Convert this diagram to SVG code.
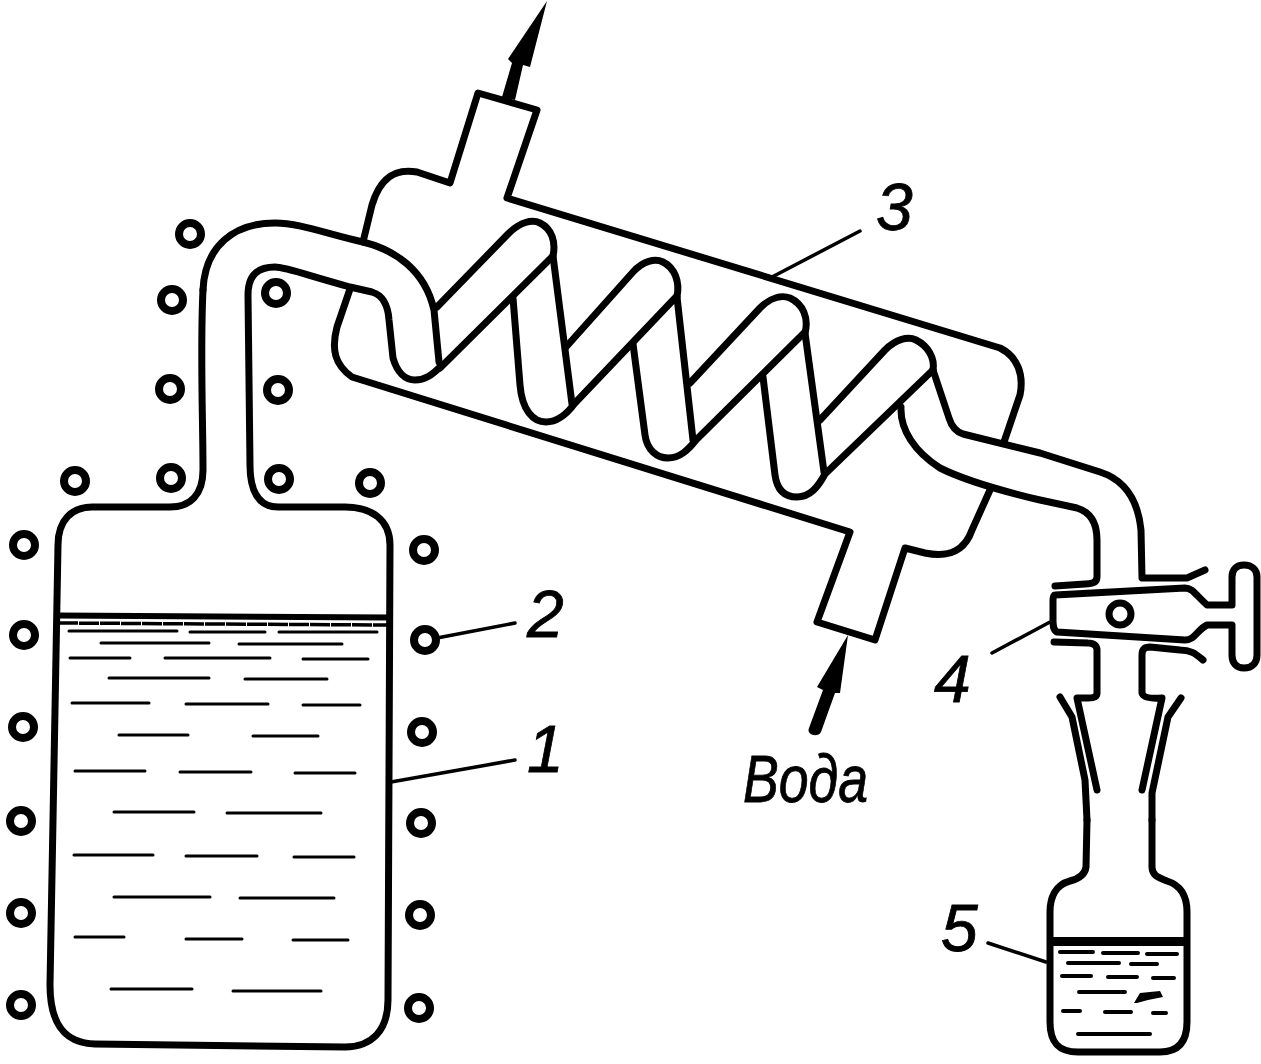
<svg xmlns="http://www.w3.org/2000/svg" width="1261" height="1064" viewBox="0 0 1261 1064">
<style>
.s{fill:none;stroke:#000;stroke-width:7;stroke-linecap:round;stroke-linejoin:round}
.f{fill:#fff;stroke:#000;stroke-width:7;stroke-linejoin:round}
.l{fill:none;stroke:#000;stroke-width:3.500;stroke-linecap:round}
.d{fill:none;stroke:#000;stroke-width:3;stroke-linecap:round}
.e{fill:none;stroke:#000;stroke-width:4;stroke-linecap:round}
.b{fill:#000;stroke:none}
.c{fill:#fff;stroke:#000;stroke-width:8}
.t{font-family:"Liberation Sans","DejaVu Sans",sans-serif;font-style:italic;font-size:66px;fill:#000;stroke:#000;stroke-width:.8}
</style>
<rect width="1261" height="1064" fill="#fff"/>
<g id="flask">
<path class="s" d="M203 290C200 350 203 420 203 470C203 495 190 507 170 507L92 507C72 507 58 520 58 545L50 985C50 1025 65 1043 95 1044L345 1047C372 1047 388 1030 388 1000L390 545C390 520 372 507 345 507L278 507C258 507 250 490 250 465L248 295C248 275 258 267 275 267C285 267 300 273 350 287L372 292C382 295 388 305 389 320L393 358C397 372 405 380 415 380C425 380 432 375 440 367"/>
<path class="s" d="M203 290C205 245 235 223 275 223C300 223 330 235 363 242C395 250 425 270 434 310L439 362"/>
<path d="M58 615.500L390 617.500" fill="none" stroke="#000" stroke-width="6"/>
<path d="M58 623L390 625" fill="none" stroke="#000" stroke-width="3.500" stroke-dasharray="20 1"/>
<path class="d" d="M69 631H177M190 632H265M279 632H377M101 643H209M239 644H342M70 658H130M165 658H270M303 659H368M109 678H209M245 679H327M72 703H149M186 704H268M303 705H360M119 735H188M253 736H318M75 771H145M180 772H251M295 773H355M114 812H194M227 813H321M74 855H153M186 856H257M294 857H354M114 897H210M240 898H334M75 937H124M186 939H242M293 940H348M111 989H192M233 991H321"/>
</g>
<g id="heater">
<circle class="c" cx="24" cy="545" r="11"/><circle class="c" cx="24" cy="635" r="11"/><circle class="c" cx="23" cy="727" r="11"/><circle class="c" cx="21" cy="821" r="11"/><circle class="c" cx="21" cy="913" r="11"/><circle class="c" cx="21" cy="1005" r="11"/>
<circle class="c" cx="424" cy="550" r="11"/><circle class="c" cx="425" cy="640" r="11"/><circle class="c" cx="422" cy="732" r="11"/><circle class="c" cx="421" cy="823" r="11"/><circle class="c" cx="420" cy="915" r="11"/><circle class="c" cx="419" cy="1008" r="11"/>
<circle class="c" cx="75" cy="481" r="11"/><circle class="c" cx="171" cy="478" r="11"/><circle class="c" cx="170" cy="389" r="11"/><circle class="c" cx="172" cy="300" r="11"/><circle class="c" cx="190" cy="234" r="11"/><circle class="c" cx="276" cy="293" r="11"/><circle class="c" cx="278" cy="390" r="11"/><circle class="c" cx="279" cy="479" r="11"/><circle class="c" cx="370" cy="483" r="11"/>
</g>
<g id="condenser">
<path class="s" d="M363 242L372 205C380 178 395 168 417 172L450 183L478 93L537 110L507 198L1000 348C1018 357 1024 375 1020 395L1004 442"/>
<path class="s" d="M350 289L337 327C331 350 335 365 352 377L850 532L817 622L875 640L905 548L925 553C950 558 965 550 972 530L990 490"/>
<g id="coil">
<path class="s" d="M437 307L508 234C520 222 532 219 540 223C552 229 556 242 553 256L440 368"/>
<path class="s" d="M513 298L520 385C522 410 533 422 546 422C558 422 567 414 575 403L676 297"/>
<path class="s" d="M553 256L572 404"/>
<path class="s" d="M566 347L633 272C643 261 655 258 663 262C675 268 680 282 677 297"/>
<path class="s" d="M677 297L693 440"/>
<path class="s" d="M633 344L645 435C647 450 657 458 668 458C680 458 688 450 696 440L804 333"/>
<path class="s" d="M690 383L760 308C771 297 782 295 790 298C803 304 809 318 805 333"/>
<path class="s" d="M805 333L824 472"/>
<path class="s" d="M763 377L775 475C777 490 785 497 797 497C810 497 818 487 825 474L933 370"/>
<path class="s" d="M820 420L885 350C896 339 908 336 916 340C928 346 935 358 933 370"/>
<path class="s" d="M933 370L949 418C952 428 957 432 963 434L1040 453L1100 472C1125 480 1138 500 1141 530L1142 578L1187 578L1205 570"/>
<path class="s" d="M901 407C900 430 915 452 940 468C960 478 985 487 1040 500L1077 508C1090 512 1097 522 1097 540L1097 577C1097 583 1090 584 1085 584L1055 586"/>
</g>
</g>
<g id="stopcock">
<path class="f" d="M1055 595L1185 588C1192 588 1195 594 1207 605L1232 605L1232 577C1232 570 1236 565 1244 565C1252 565 1257 570 1257 577L1257 655C1257 663 1252 668 1244 668C1236 668 1232 663 1232 655L1232 625L1207 625C1197 630 1195 640 1185 640L1057 632C1053 630 1053 625 1053 620L1053 600C1053 597 1054 595 1055 595Z"/>
<circle cx="1120" cy="614" r="11" fill="#fff" stroke="#000" stroke-width="7"/>
<path class="s" d="M1054 642L1088 643C1094 643 1097 646 1097 650L1097 693C1097 697 1093 698 1088 698L1077 698L1097 790"/>
<path class="s" d="M1203 660C1195 653 1190 650 1180 650L1150 647C1144 647 1142 650 1142 655L1142 693C1143 697 1148 699 1162 698L1142 790"/>
<path class="s" d="M1060 697L1072 717L1085 780L1087 820"/>
<path class="s" d="M1181 698L1168 717L1152 793L1152 820"/>
</g>
<g id="receiver">
<path class="s" d="M1087 820L1086 867C1085 875 1078 879 1070 881C1055 885 1050 898 1050 912L1050 1022C1050 1042 1058 1052 1078 1052L1160 1052C1178 1052 1187 1042 1187 1022L1187 912C1187 895 1180 885 1167 881C1157 877 1152 875 1152 867L1152 820"/>
<path d="M1050 941.500H1187" fill="none" stroke="#000" stroke-width="9"/>
<path class="e" d="M1060 952H1093M1103 953H1138M1147 954H1177M1068 963H1119M1131 964H1157M1062 976H1091M1108 977H1137M1153 978H1174M1079 992H1125M1063 1011H1080M1105 1012H1131M1153 1013H1166M1078 1034H1150"/>
<path class="b" d="M1134 1003L1140 993L1160 991L1163 997L1148 1000L1137 1003Z"/>
</g>
<g id="connectors">
<path class="l" d="M772 277L860 231"/>
<path class="l" d="M437 638L515 623"/>
<path class="l" d="M391 782L515 760"/>
<path class="l" d="M1050 622L992 653"/>
<path class="l" d="M988 943L1046 962"/>
<path class="b" d="M547 1L530 67L523 65L515 100L502 97L512 63L508 59Z"/>
<path class="b" d="M848 635L840 693L835 693L821 732C818 738 806 735 809 728L823 690L817 687Z"/>
</g>
<g id="labels">
<text class="t" x="876" y="230">3</text>
<text class="t" x="527" y="637">2</text>
<text class="t" x="527" y="772">1</text>
<text class="t" x="934" y="702">4</text>
<text class="t" x="941" y="951">5</text>
<text class="t" x="743" y="802" textLength="125" lengthAdjust="spacingAndGlyphs">Вода</text>
</g>
</svg>
